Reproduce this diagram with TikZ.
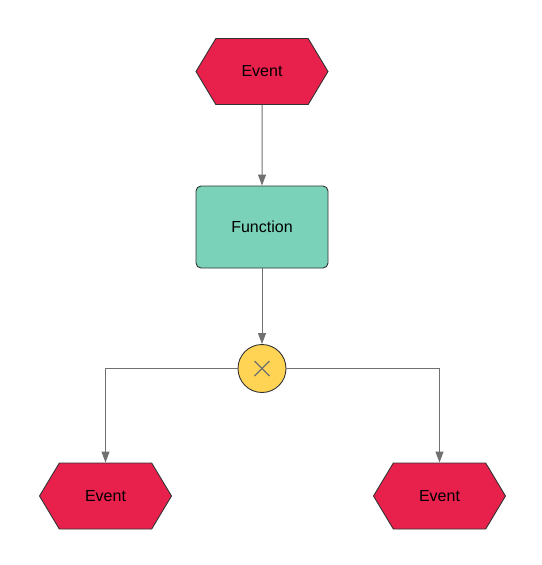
\documentclass[tikz,border=0pt]{standalone}
\usepackage{fontspec}
\setmainfont{Liberation Sans}
\usepackage{xcolor}
\usepackage{tikz}
\definecolor{eventred}{RGB}{232,33,76}
\definecolor{funcgreen}{RGB}{122,211,184}
\definecolor{gateyellow}{RGB}{255,212,84}
\definecolor{flowgrey}{RGB}{112,112,112}
\definecolor{edgegrey}{RGB}{51,51,51}
\usetikzlibrary{shapes.symbols,arrows.meta}

\begin{document}
\begin{tikzpicture}[x=1pt,y=-1pt,
    event/.style={signal, signal to=west and east, signal pointer angle=118,
        draw=edgegrey, line width=0.9pt, fill=eventred, minimum width=132pt, minimum height=66pt,
        inner sep=0pt, font=\fontsize{16}{19}\selectfont},
    function/.style={rectangle, rounded corners=5pt, draw=edgegrey, line width=0.9pt, fill=funcgreen,
        minimum width=132pt, minimum height=82pt, inner sep=0pt,
        font=\fontsize{16}{19}\selectfont},
    gateway/.style={circle, draw=edgegrey, line width=0.9pt, fill=gateyellow, minimum size=48pt, inner sep=0pt},
    flow/.style={draw=flowgrey, line width=1pt, -{Triangle[length=11pt,width=8pt]}}]
    \useasboundingbox (0,0) rectangle (541,565);

    % Nodes
    \node[event] (startevent) at (262,71.5) {Event};
    \node[function] (func) at (262,227) {Function};
    \node[gateway] (xorgate) at (262,368.5) {};
    \node[event] (leftevent) at (105.5,496) {Event};
    \node[event] (rightevent) at (439.5,496) {Event};

    % XOR cross
    \draw[flowgrey, line width=1.2pt] ([shift={(-7.5,-7.5)}]xorgate.center) -- ([shift={(7.5,7.5)}]xorgate.center);
    \draw[flowgrey, line width=1.2pt] ([shift={(-7.5,7.5)}]xorgate.center) -- ([shift={(7.5,-7.5)}]xorgate.center);

    % Flows
    \draw[flow] (startevent) -- (func);
    \draw[flow] (func) -- (xorgate);
    \draw[flow] (xorgate.west) -| (leftevent);
    \draw[flow] (xorgate.east) -| (rightevent);
\end{tikzpicture}
\end{document}
